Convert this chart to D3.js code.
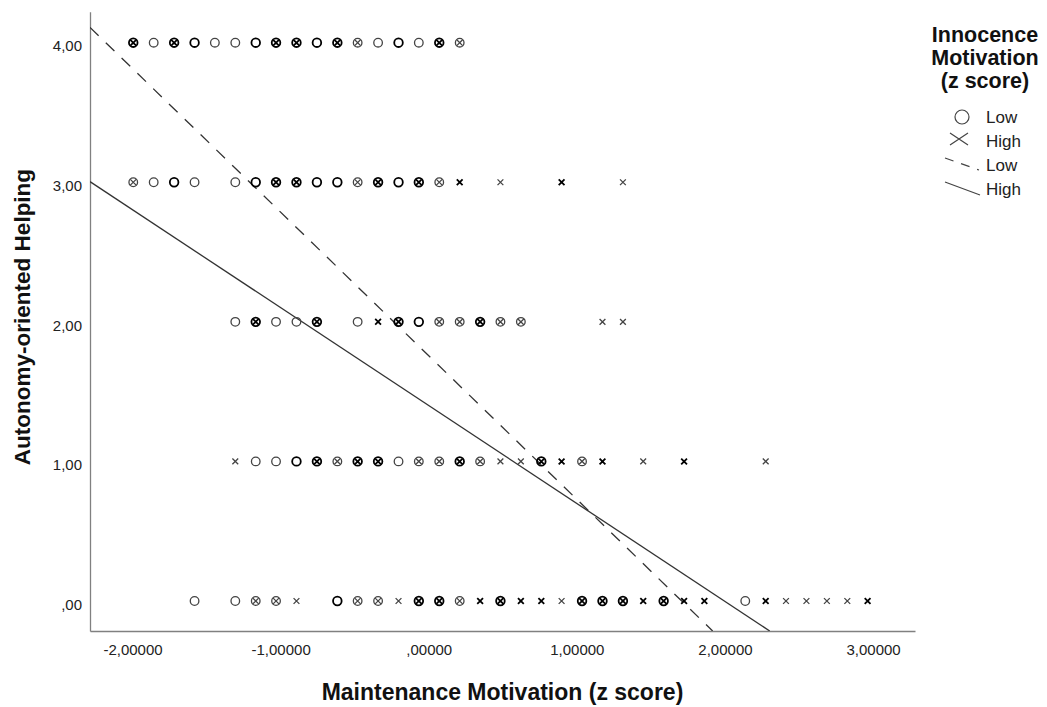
<!DOCTYPE html>
<html>
<head>
<meta charset="utf-8">
<script src="https://cdn.jsdelivr.net/npm/d3@7"></script>
<style>
  body { margin: 0; background: #fff; }
  svg { display: block; font-family: "Liberation Sans", Arial, sans-serif; }
</style>
</head>
<body>
<div id="chart"></div>
<script>
// x positions (z score) of the points on each Y level
// mark codes: o/O = Low only, x/X = High only, b/B = both; capital = darker (overlap)
const row4X = [-1.995, -1.857, -1.719, -1.581, -1.444, -1.306, -1.168, -1.031, -0.893, -0.755, -0.617, -0.480, -0.342, -0.204, -0.067, 0.071, 0.209];
const row4Mark = ["B","o","B","O","o","o","O","B","B","O","B","b","o","O","o","B","b"];

const row3X = [-1.995, -1.857, -1.719, -1.581, -1.306, -1.168, -1.031, -0.893, -0.755, -0.617, -0.480, -0.342, -0.204, -0.067, 0.071, 0.209, 0.484, 0.897, 1.311];
const row3Mark = ["b","o","O","o","o","O","B","B","O","O","b","B","O","B","b","X","x","X","x"];

const row2X = [-1.306, -1.168, -1.031, -0.893, -0.755, -0.480, -0.342, -0.204, -0.067, 0.071, 0.209, 0.347, 0.484, 0.622, 1.173, 1.311];
const row2Mark = ["o","B","o","o","B","o","X","B","O","b","b","B","b","b","x","x"];

const row1X = [-1.306, -1.168, -1.031, -0.893, -0.755, -0.617, -0.480, -0.342, -0.204, -0.067, 0.071, 0.209, 0.347, 0.484, 0.622, 0.760, 0.897, 1.035, 1.173, 1.448, 1.724, 2.275];
const row1Mark = ["x","o","o","O","B","b","B","B","o","b","b","B","b","x","x","B","X","b","X","x","X","x"];

const row0X = [-1.581, -1.306, -1.168, -1.031, -0.893, -0.617, -0.480, -0.342, -0.204, -0.067, 0.071, 0.209, 0.347, 0.484, 0.622, 0.760, 0.897, 1.035, 1.173, 1.311, 1.448, 1.586, 1.724, 1.861, 2.137, 2.275, 2.412, 2.550, 2.688, 2.826, 2.963];
const row0Mark = ["o","o","b","b","x","O","b","b","x","B","B","b","X","B","X","X","x","B","B","B","X","B","X","X","o","X","x","x","x","x","X"];

const yLevels = [4, 3, 2, 1, 0];

// fit lines (intercept, slope) per Innocence group
const groupNames = ["Low", "High"];
const fitIntercept = [1.757, 1.400];
const fitSlope = [-1.0288, -0.7015];

const xTicks = [-2, -1, 0, 1, 2, 3];
const xTickLabels = ["-2,00000", "-1,00000", ",00000", "1,00000", "2,00000", "3,00000"];
const yTicks = [0, 1, 2, 3, 4];
const yTickLabels = [",00", "1,00", "2,00", "3,00", "4,00"];

const W = 1047, H = 707;
const plot = {left: 90, right: 915, top: 11.7, bottom: 631};

const svg = d3.select("#chart").append("svg")
  .attr("width", W)
  .attr("height", H);

const x = d3.scaleLinear().domain([-2.287, 3.283]).range([plot.left, plot.right]);
const y = d3.scaleLinear().domain([-0.215, 4.222]).range([plot.bottom, plot.top]);

// x axis
const xAxis = svg.append("g")
  .attr("transform", `translate(0,${plot.bottom})`)
  .call(d3.axisBottom(x).tickValues(xTicks).tickSize(0).tickPadding(13)
    .tickFormat((d, i) => xTickLabels[i]));
xAxis.select(".domain").attr("stroke", "#808080").attr("stroke-width", 1.3);
xAxis.selectAll("text").style("font-size", "15px").attr("fill", "#222");

// y axis
const yAxis = svg.append("g")
  .attr("transform", `translate(${plot.left},0)`)
  .call(d3.axisLeft(y).tickValues(yTicks).tickSize(0).tickPadding(8)
    .tickFormat((d, i) => yTickLabels[i]));
yAxis.select(".domain").attr("stroke", "#808080").attr("stroke-width", 1.3);
yAxis.selectAll("text").style("font-size", "15px").attr("fill", "#222").attr("dy", "0.55em");

// axis titles
svg.append("text")
  .attr("x", (plot.left + plot.right) / 2)
  .attr("y", 700)
  .attr("text-anchor", "middle")
  .style("font-size", "23px")
  .style("font-weight", "bold")
  .attr("fill", "#111")
  .text("Maintenance Motivation (z score)");

svg.append("text")
  .attr("transform", "translate(30,317) rotate(-90)")
  .attr("text-anchor", "middle")
  .style("font-size", "22.5px")
  .style("font-weight", "bold")
  .attr("fill", "#111")
  .text("Autonomy-oriented Helping");

// clip for fit lines
svg.append("clipPath").attr("id", "plotClip")
  .append("rect")
  .attr("x", plot.left).attr("y", plot.top)
  .attr("width", plot.right - plot.left).attr("height", plot.bottom - plot.top);

const line = d3.line().x(d => x(d[0])).y(d => y(d[1]));
const [x0, x1] = x.domain();
const yMin = y.domain()[0];

groupNames.forEach((g, i) => {
  const a = fitIntercept[i], b = fitSlope[i];
  const xEnd = Math.min(x1, (yMin - a) / b);
  svg.append("path")
    .attr("clip-path", "url(#plotClip)")
    .attr("d", line([[x0, a + b * x0], [xEnd, a + b * xEnd]]))
    .attr("fill", "none")
    .attr("stroke", "#333")
    .attr("stroke-width", 1.3)
    .attr("stroke-dasharray", g === "Low" ? "12,10" : null);
});

// points
const rows = [
  [row4X, row4Mark], [row3X, row3Mark], [row2X, row2Mark], [row1X, row1Mark], [row0X, row0Mark]
];
const points = [];
rows.forEach(([xs, marks], r) => {
  xs.forEach((v, j) => points.push({x: v, y: yLevels[r], m: marks[j]}));
});

const crossPath = s => `M${-s},${-s}L${s},${s}M${-s},${s}L${s},${-s}`;
const dark = m => m === m.toUpperCase();

const pts = svg.append("g").selectAll("g")
  .data(points)
  .join("g")
  .attr("transform", d => `translate(${x(d.x)},${y(d.y)})`);

pts.filter(d => "oObB".includes(d.m))
  .append("circle")
  .attr("r", 4.3)
  .attr("fill", "none")
  .attr("stroke", d => dark(d.m) ? "#000" : "#444")
  .attr("stroke-width", d => dark(d.m) ? 1.8 : 1.3);

pts.filter(d => "xXbB".includes(d.m))
  .append("path")
  .attr("d", crossPath(2.9))
  .attr("fill", "none")
  .attr("stroke", d => dark(d.m) ? "#000" : "#444")
  .attr("stroke-width", d => dark(d.m) ? 1.8 : 1.3);

// legend
const legend = svg.append("g");
["Innocence", "Motivation", "(z score)"].forEach((t, i) => {
  legend.append("text")
    .attr("x", 985)
    .attr("y", 42 + i * 23)
    .attr("text-anchor", "middle")
    .style("font-size", "21.5px")
    .style("font-weight", "bold")
    .attr("fill", "#111")
    .text(t);
});

legend.append("circle")
  .attr("cx", 962).attr("cy", 117).attr("r", 7)
  .attr("fill", "none").attr("stroke", "#444").attr("stroke-width", 1.2);
legend.append("path")
  .attr("d", "M950,133L968,145M950,145L968,133")
  .attr("fill", "none").attr("stroke", "#444").attr("stroke-width", 1.2);
legend.append("line")
  .attr("x1", 945).attr("y1", 158).attr("x2", 979).attr("y2", 170)
  .attr("stroke", "#444").attr("stroke-width", 1.2).attr("stroke-dasharray", "9,8");
legend.append("line")
  .attr("x1", 945).attr("y1", 182).attr("x2", 980).attr("y2", 195)
  .attr("stroke", "#444").attr("stroke-width", 1.2);

const legendLabels = ["Low", "High", "Low", "High"];
const legendBase = [123, 147, 171, 195];
legendLabels.forEach((t, i) => {
  legend.append("text")
    .attr("x", 986)
    .attr("y", legendBase[i])
    .style("font-size", "17px")
    .attr("fill", "#222")
    .text(t);
});
</script>
</body>
</html>
